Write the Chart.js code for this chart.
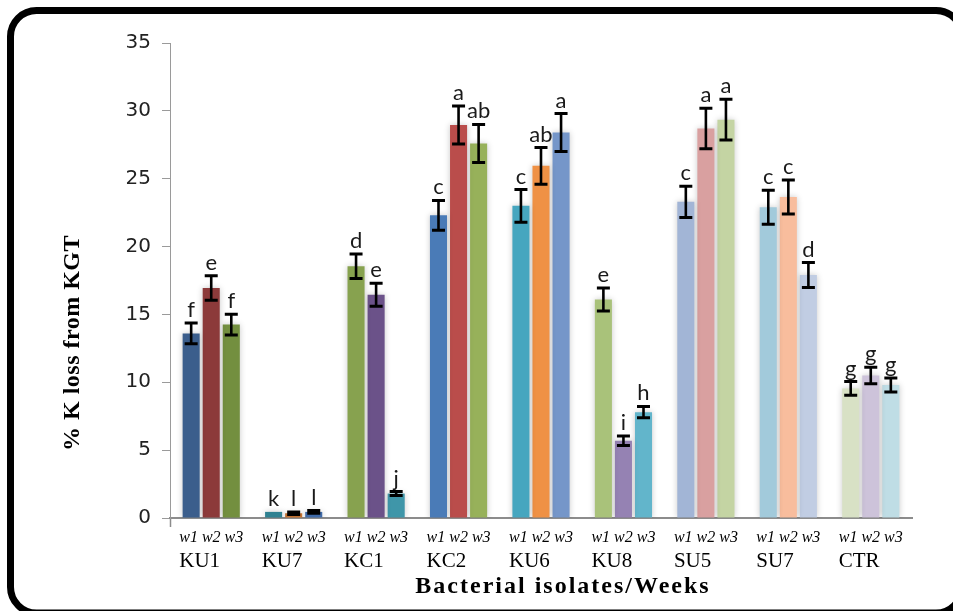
<!DOCTYPE html>
<html>
<head>
<meta charset="utf-8">
<script src="https://cdn.jsdelivr.net/npm/chart.js@4.4.1/dist/chart.umd.min.js"></script>
<style>
  html, body { margin: 0; padding: 0; background: #ffffff; }
  #wrap { position: relative; width: 953px; height: 611px; overflow: hidden; }
  canvas { display: block; }
</style>
</head>
<body>
<div id="wrap"><canvas id="chart" width="953" height="611"></canvas></div>
<script>
// Potassium loss from KGT per bacterial isolate, weeks 1-3
const categories = ['KU1', 'KU7', 'KC1', 'KC2', 'KU6', 'KU8', 'SU5', 'SU7', 'CTR'];
const weekNames = ['w1', 'w2', 'w3'];

const week1 = [13.6, 0.45, 18.55, 22.3, 23.0, 16.1, 23.3, 22.9, 9.55];
const week2 = [16.95, 0.35, 16.45, 28.95, 25.95, 5.7, 28.7, 23.65, 10.5];
const week3 = [14.25, 0.45, 1.8, 27.6, 28.4, 7.8, 29.35, 17.9, 9.8];

const err1 = [0.76, 0, 0.9, 1.1, 1.2, 0.85, 1.15, 1.25, 0.5];
const err2 = [0.9, 0.1, 0.85, 1.4, 1.35, 0.35, 1.5, 1.25, 0.6];
const err3 = [0.76, 0.1, 0.15, 1.4, 1.4, 0.42, 1.5, 0.92, 0.52];

const letters1 = ['f', 'k', 'd', 'c', 'c', 'e', 'c', 'c', 'g'];
const letters2 = ['e', 'l', 'e', 'a', 'ab', 'i', 'a', 'c', 'g'];
const letters3 = ['f', 'l', 'j', 'ab', 'a', 'h', 'a', 'd', 'g'];

const yMin = 0, yMax = 35, yStep = 5;
const yTitle = '% K loss from KGT';
const xTitle = 'Bacterial isolates/Weeks';

// every bar has its own fill
const colors1 = ['#3b5e8c', '#2f8191', '#87a24f', '#4a7bb7', '#46a6bf', '#a9c27a', '#a2b5d6', '#a2cadb', '#d8e1c5'];
const colors2 = ['#8c3a3a', '#c2702f', '#6b5289', '#ba4d4b', '#ef9145', '#9582b3', '#d9a0a0', '#f8bd9d', '#cdc3da'];
const colors3 = ['#738f3f', '#3f6aa8', '#3f96a9', '#97b15a', '#7596c9', '#62b5cb', '#c4d4a3', '#c1cde3', '#bfdde5'];

const series = [
  { values: week1, errors: err1, letters: letters1, colors: colors1 },
  { values: week2, errors: err2, letters: letters2, colors: colors2 },
  { values: week3, errors: err3, letters: letters3, colors: colors3 }
];

const tickFont = { family: '"Liberation Serif", "Times New Roman", serif', size: 16, style: 'italic' };
const weekLine = weekNames.join(' ');

// rounded black frame around the figure
const framePlugin = {
  id: 'frame',
  beforeDraw(chart) {
    const ctx = chart.ctx;
    ctx.save();
    ctx.fillStyle = '#ffffff';
    ctx.fillRect(0, 0, chart.width, chart.height);
    ctx.beginPath();
    ctx.roundRect(10.5, 10.5, 962 - 10.5, 613 - 10.5, 26);
    ctx.lineWidth = 7;
    ctx.strokeStyle = '#000000';
    ctx.stroke();
    ctx.restore();
  }
};

// soft halo behind the bars
const glowPlugin = {
  id: 'glow',
  beforeDatasetDraw(chart) {
    const ctx = chart.ctx;
    ctx.save();
    ctx.shadowColor = 'rgba(0,0,0,0.22)';
    ctx.shadowBlur = 6;
  },
  afterDatasetDraw(chart) {
    chart.ctx.restore();
  }
};

// error bars and significance letters
const errorPlugin = {
  id: 'errorBars',
  afterDatasetsDraw(chart) {
    const ctx = chart.ctx;
    const y = chart.scales.y;
    ctx.save();
    series.forEach((s, di) => {
      const meta = chart.getDatasetMeta(di);
      meta.data.forEach((bar, i) => {
        const v = s.values[i];
        const e = s.errors[i];
        const top = y.getPixelForValue(v + e);
        const bot = y.getPixelForValue(v - e);
        if (e > 0) {
          ctx.strokeStyle = '#000000';
          ctx.lineWidth = 2.6;
          ctx.beginPath();
          ctx.moveTo(bar.x, top);
          ctx.lineTo(bar.x, bot);
          ctx.stroke();
          ctx.lineWidth = 3;
          ctx.beginPath();
          ctx.moveTo(bar.x - 6.5, top);
          ctx.lineTo(bar.x + 6.5, top);
          ctx.moveTo(bar.x - 6.5, bot);
          ctx.lineTo(bar.x + 6.5, bot);
          ctx.stroke();
        }
        ctx.fillStyle = '#1a1a1a';
        ctx.font = '22px Lato, "Open Sans", sans-serif';
        ctx.textAlign = 'center';
        ctx.textBaseline = 'alphabetic';
        ctx.fillText(s.letters[i], bar.x, top - 6);
      });
    });
    ctx.restore();
  }
};

// isolate names under the week labels, and both axis titles
const textPlugin = {
  id: 'axisText',
  afterDraw(chart) {
    const ctx = chart.ctx;
    const x = chart.scales.x;
    const area = chart.chartArea;
    ctx.save();
    ctx.font = 'italic 16px "Liberation Serif", serif';
    const half = ctx.measureText(weekLine).width / 2;
    ctx.fillStyle = '#000000';
    ctx.font = '21px "Liberation Serif", "Times New Roman", serif';
    ctx.textAlign = 'left';
    ctx.textBaseline = 'alphabetic';
    categories.forEach((c, i) => {
      ctx.fillText(c, x.getPixelForValue(i) - half, area.bottom + 49);
    });

    ctx.font = 'bold 24px "Liberation Serif", "Times New Roman", serif';
    ctx.letterSpacing = '2px';
    ctx.textAlign = 'center';
    ctx.fillText(xTitle, (area.left + area.right) / 2 + 22, area.bottom + 75);

    ctx.letterSpacing = '0.5px';
    ctx.translate(area.left - 97, area.bottom - 175);
    ctx.rotate(-Math.PI / 2);
    ctx.textBaseline = 'middle';
    ctx.fillText(yTitle, 0, 0);
    ctx.restore();
  }
};

new Chart(document.getElementById('chart'), {
  type: 'bar',
  data: {
    labels: categories,
    datasets: series.map((s, i) => ({
      label: weekNames[i],
      data: s.values,
      backgroundColor: s.colors,
      borderWidth: 0,
      categoryPercentage: 0.73,
      barPercentage: 0.85
    }))
  },
  options: {
    responsive: false,
    animation: false,
    layout: { padding: { top: 43, right: 41, bottom: 0, left: 0 } },
    plugins: {
      legend: { display: false },
      tooltip: { enabled: false }
    },
    scales: {
      x: {
        grid: {
          display: true,
          drawOnChartArea: false,
          drawTicks: true,
          tickLength: 9,
          tickColor: (c) => (c.index === 0 || c.index === categories.length) ? '#8c8c8c' : 'rgba(0,0,0,0)',
          tickWidth: 1.5
        },
        border: { display: true, color: '#8c8c8c', width: 2 },
        ticks: {
          color: '#000000',
          font: tickFont,
          padding: 1,
          maxRotation: 0,
          autoSkip: false,
          callback: () => weekLine
        },
        afterFit(scale) { scale.height = 93; }
      },
      y: {
        min: yMin,
        max: yMax,
        grid: {
          display: true,
          drawOnChartArea: false,
          drawTicks: true,
          tickLength: 8,
          tickColor: '#9a9a9a'
        },
        border: { display: true, color: '#9a9a9a', width: 1 },
        ticks: {
          stepSize: yStep,
          color: '#222222',
          padding: 11,
          font: { family: '"DejaVu Sans", Verdana, sans-serif', size: 20 }
        },
        afterFit(scale) { scale.width = 170; }
      }
    }
  },
  plugins: [framePlugin, glowPlugin, errorPlugin, textPlugin]
});
</script>
</body>
</html>
